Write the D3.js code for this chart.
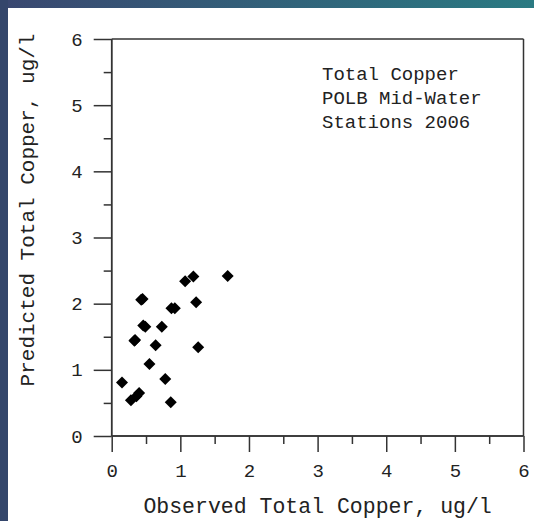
<!DOCTYPE html>
<html><head><meta charset="utf-8">
<script src="https://cdn.jsdelivr.net/npm/d3@7"></script>
<style>body{margin:0;background:#fff;overflow:hidden}svg{display:block}</style>
</head><body>
<script>
const observed = [0.15,0.28,0.36,0.40,0.43,0.45,0.46,0.49,0.34,0.33,0.55,0.64,0.73,0.78,0.86,0.87,0.92,1.07,1.19,1.23,1.26,1.69];
const predicted = [0.81,0.54,0.60,0.65,2.06,2.07,1.67,1.65,1.45,1.44,1.09,1.37,1.65,0.86,0.51,1.93,1.93,2.34,2.41,2.02,1.34,2.42];
const xTicks = [0,1,2,3,4,5,6];
const yTicks = [0,1,2,3,4,5,6];
const legendLines = ["Total Copper","POLB Mid-Water","Stations 2006"];
const xTitle = "Observed Total Copper, ug/l";
const yTitle = "Predicted Total Copper, ug/l";

const W=534,H=521;
const svg=d3.select("body").append("svg").attr("width",W).attr("height",H);
const defs=svg.append("defs");
const gr=defs.append("linearGradient").attr("id","tg");
gr.append("stop").attr("offset","0%").attr("stop-color","#3a4770");
gr.append("stop").attr("offset","100%").attr("stop-color","#2a7a82");
svg.append("rect").attr("x",0).attr("y",0).attr("width",W).attr("height",8).attr("fill","url(#tg)");
svg.append("rect").attr("x",0).attr("y",0).attr("width",8).attr("height",H).attr("fill","#34466b");

const x=d3.scaleLinear().domain([0,6]).range([111.7,523.5]);
const y=d3.scaleLinear().domain([0,6]).range([436,39]);
const font="'Liberation Mono','Courier New',monospace";
const col="#333";

// frame top & right
svg.append("line").attr("x1",x(0)).attr("x2",x(6)).attr("y1",y(6)).attr("y2",y(6)).attr("stroke",col).attr("stroke-width",1.5);
svg.append("line").attr("x1",x(6)).attr("x2",x(6)).attr("y1",y(6)).attr("y2",y(0)).attr("stroke",col).attr("stroke-width",1.5);

// x axis
const xa=svg.append("g").attr("transform",`translate(0,${y(0)})`)
 .call(d3.axisBottom(x).tickValues(xTicks).tickSize(16).tickPadding(12).tickFormat(d3.format("d")));
const xm=svg.append("g").attr("transform",`translate(0,${y(0)})`)
 .call(d3.axisBottom(x).tickValues(d3.range(0.5,6,1)).tickSize(8).tickFormat(""));
// y axis
const ya=svg.append("g").attr("transform",`translate(${x(0)},0)`)
 .call(d3.axisLeft(y).tickValues(yTicks).tickSize(18).tickPadding(11).tickFormat(d3.format("d")));
const ym=svg.append("g").attr("transform",`translate(${x(0)},0)`)
 .call(d3.axisLeft(y).tickValues(d3.range(0.5,6,1)).tickSize(8).tickFormat(""));
[xa,xm,ya,ym].forEach(g=>{
  g.select(".domain").attr("stroke",col).attr("stroke-width",1.5).attr("d", g===xa||g===xm?`M${x(0)},0H${x(6)}`:`M0,${y(0)}V${y(6)}`);
  g.selectAll(".tick line").attr("stroke",col).attr("stroke-width",1.5);
  g.selectAll("text").attr("font-family",font).attr("font-size",19).attr("fill","#222");
});

// points
const r=6;
svg.append("g").selectAll("path").data(observed.map((o,i)=>[o,predicted[i]])).join("path")
 .attr("d",d=>`M${x(d[0])},${y(d[1])-r}L${x(d[0])+r},${y(d[1])}L${x(d[0])},${y(d[1])+r}L${x(d[0])-r},${y(d[1])}Z`)
 .attr("fill","#000");

// legend
svg.append("g").selectAll("text").data(legendLines).join("text")
 .attr("x",322).attr("y",(d,i)=>80+i*24).text(d=>d)
 .attr("font-family",font).attr("font-size",19).attr("fill","#222");

svg.append("text").attr("x",(x(0)+x(6))/2).attr("y",513).attr("text-anchor","middle")
 .attr("font-family",font).attr("font-size",21.5).attr("fill","#222").text(xTitle);
svg.append("text").attr("transform","translate(34,210) rotate(-90)").attr("text-anchor","middle")
 .attr("font-family",font).attr("font-size",21).attr("fill","#222").text(yTitle);
</script>
</body></html>
